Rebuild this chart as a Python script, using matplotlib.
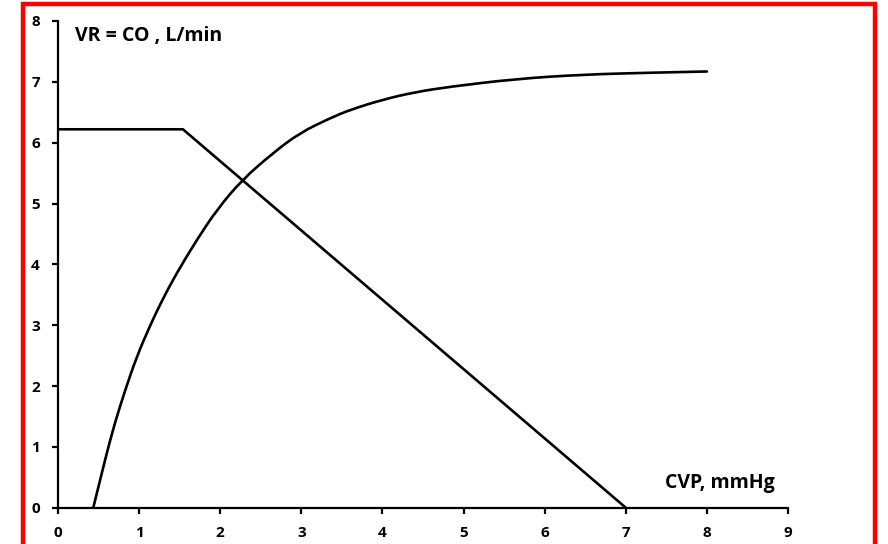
import matplotlib.pyplot as plt
from matplotlib.patches import Rectangle, PathPatch
from matplotlib.path import Path

plt.rcParams['font.family'] = ['Open Sans', 'DejaVu Sans']

# venous return curve (flat plateau, then linear fall)
vr_x = [0.0, 1.54, 7.0]
vr_y = [6.22, 6.22, 0.0]

# cardiac output curve
co_x = [0.435, 0.52, 0.60, 0.70, 0.83, 0.97, 1.13, 1.28, 1.46, 1.71,
        1.96, 2.27, 2.65, 2.98, 3.35, 3.60, 4.01, 4.40, 4.83, 5.66,
        6.48, 7.30, 8.0]
co_y = [0.0, 0.46, 0.89, 1.39, 1.94, 2.48, 2.98, 3.40, 3.85, 4.40,
        4.90, 5.39, 5.83, 6.16, 6.40, 6.54, 6.71, 6.83, 6.92, 7.05,
        7.12, 7.15, 7.17]

xticks = list(range(0, 10))
yticks = list(range(0, 9))


def smooth_path(xs, ys):
    # quadratic bezier pieces through the midpoints, the read points act as controls
    pts = list(zip(xs, ys))
    verts = [pts[0]]
    codes = [Path.MOVETO]
    for i in range(1, len(pts) - 1):
        mid = ((pts[i][0] + pts[i+1][0]) / 2, (pts[i][1] + pts[i+1][1]) / 2)
        if i == 1:
            verts.append(((pts[0][0] + pts[1][0]) / 2, (pts[0][1] + pts[1][1]) / 2))
            codes.append(Path.LINETO)
        verts += [pts[i], mid]
        codes += [Path.CURVE3, Path.CURVE3]
    verts.append(pts[-1])
    codes.append(Path.LINETO)
    return Path(verts, codes)


fig = plt.figure(figsize=(8.88, 5.44), dpi=100)
ax = fig.add_axes([58/888, 1-507.7/544, 730/888, 486.7/544])

ax.plot(vr_x, vr_y, color='black', lw=1.9, solid_capstyle='butt',
        solid_joinstyle='miter')
ax.add_patch(PathPatch(smooth_path(co_x, co_y), facecolor='none',
                       edgecolor='black', lw=1.9, capstyle='round'))

ax.set_xlim(0, 9)
ax.set_ylim(0, 8)
ax.set_xticks(xticks)
ax.set_yticks(yticks)
ax.spines['top'].set_visible(False)
ax.spines['right'].set_visible(False)
for s in ['left', 'bottom']:
    ax.spines[s].set_linewidth(1.6)
ax.tick_params(direction='out', length=4, width=1.6, pad=9, labelsize=11)
for lab in ax.get_xticklabels() + ax.get_yticklabels():
    lab.set_fontweight('bold')

ax.text(75/888, 1-36/544, 'VR = CO , L/min', transform=fig.transFigure,
        fontsize=14, fontweight='bold', va='center', ha='left')
ax.text(665/888, 1-483/544, 'CVP, mmHg', transform=fig.transFigure,
        fontsize=14, fontweight='bold', va='center', ha='left')

# red frame around the figure
fig.patches.append(Rectangle((23/888, -0.05), 852/888, 1.05-4/544,
                             transform=fig.transFigure, fill=False,
                             edgecolor='red', lw=3.2))

fig.savefig('out.png', dpi=100)
